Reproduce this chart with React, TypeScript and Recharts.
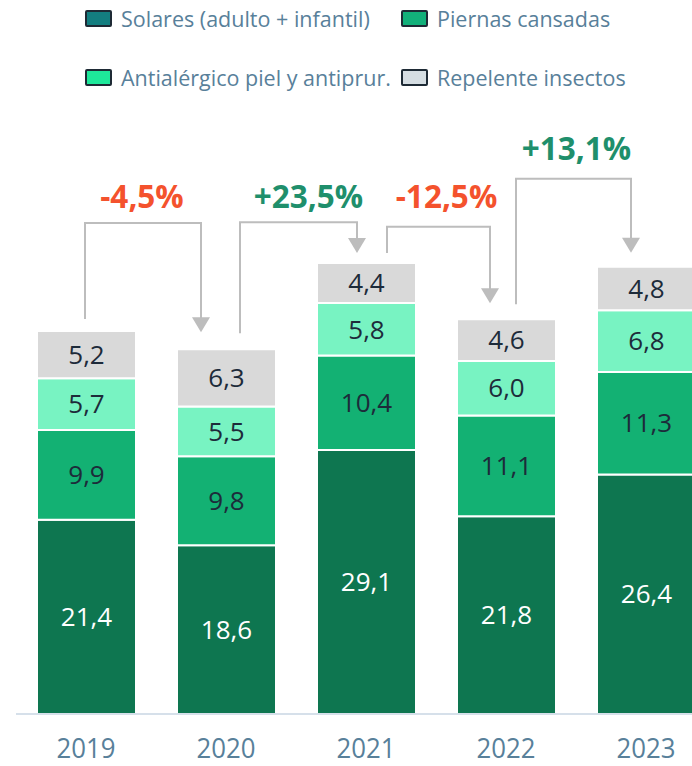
import { BarChart, Bar, XAxis, YAxis, LabelList, ReferenceLine } from 'recharts';

const years = ['2019', '2020', '2021', '2022', '2023'];
const solares = [21.4, 18.6, 29.1, 21.8, 26.4];
const piernas = [9.9, 9.8, 10.4, 11.1, 11.3];
const antialergico = [5.7, 5.5, 5.8, 6.0, 6.8];
const repelente = [5.2, 6.3, 4.4, 4.6, 4.8];
const changes = ['-4,5%', '+23,5%', '-12,5%', '+13,1%'];

const seriesNames = ['Solares (adulto + infantil)', 'Piernas cansadas', 'Antialérgico piel y antiprur.', 'Repelente insectos'];
const seriesKeys = ['solares', 'piernas', 'antialergico', 'repelente'];
const barColors = ['#0e7650', '#13b173', '#78f3c2', '#d9d9d9'];
const legendColors = ['#137e80', '#12b07a', '#1ee89a', '#d5dde2'];
const labelColors = ['#ffffff', '#1d2b3a', '#1d2b3a', '#1d2b3a'];

// connector geometry (pixels / data units), tuned to the picture
const connectorLayout = [
	{ level: 54.1, dxFrom: -1, dxTo: -25, startGap: 12, tipGap: 17, labelDx: -1, labelDy: -28 },
	{ level: 54.2, dxFrom: 14, dxTo: -9, startGap: 16, tipGap: 10, labelDx: 10, labelDy: -27 },
	{ level: 53.7, dxFrom: 21, dxTo: -16, startGap: 10, tipGap: 16, labelDx: 8, labelDy: -31 },
	{ level: 59.0, dxFrom: 10, dxTo: -15, startGap: 15, tipGap: 14, labelDx: 3, labelDy: -31 },
];

const data = years.map((year, i) => ({
	year,
	solares: solares[i],
	piernas: piernas[i],
	antialergico: antialergico[i],
	repelente: repelente[i],
}));

const totals = years.map((_, i) => solares[i] + piernas[i] + antialergico[i] + repelente[i]);

const LINE = '#bdbdbd';
const fmt = (v: any) => Number(v).toFixed(1).replace('.', ',');

function LeftLeg(dx: number, gap: number) {
	return (p: any) => (
		<line x1={p.x1 + dx} x2={p.x2 + dx} y1={Math.max(p.y1, p.y2) - gap} y2={Math.min(p.y1, p.y2)} stroke={LINE} strokeWidth={2} />
	);
}

function Across(dxFrom: number, dxTo: number, label: string, labelDx: number, labelDy: number) {
	return (p: any) => {
		const a = p.x1 + dxFrom;
		const b = p.x2 + dxTo;
		const color = label.startsWith('-') ? '#f4522d' : '#1f8f6c';
		return (
			<g>
				<line x1={a - 1} x2={b + 1} y1={p.y1} y2={p.y2} stroke={LINE} strokeWidth={2} />
				<text
					x={(a + b) / 2 + labelDx}
					y={p.y1 + labelDy}
					textAnchor="middle"
					dominantBaseline="central"
					fill={color}
					fontSize={31.5}
					fontWeight={700}
				>
					{label}
				</text>
			</g>
		);
	};
}

function RightLeg(dx: number, gap: number) {
	return (p: any) => {
		const x = p.x1 + dx;
		const top = Math.min(p.y1, p.y2);
		const tip = Math.max(p.y1, p.y2) - gap;
		return (
			<g>
				<line x1={x} x2={x} y1={top} y2={tip - 12} stroke={LINE} strokeWidth={2} />
				<path d={`M${x - 9},${tip - 15} L${x + 9},${tip - 15} L${x},${tip} Z`} fill={LINE} />
			</g>
		);
	};
}

function YearTick({ x, y, payload }: any) {
	return (
		<text x={x} y={y + 44} textAnchor="middle" fill="#58809a" fontSize={27} textLength={59} lengthAdjust="spacingAndGlyphs">
			{payload.value}
		</text>
	);
}

function LegendBlock() {
	const pos = [
		{ left: 85, top: 10 },
		{ left: 401, top: 10 },
		{ left: 85, top: 69 },
		{ left: 401, top: 69 },
	];
	return (
		<>
			{seriesNames.map((name, i) => (
				<div
					key={name}
					style={{ position: 'absolute', left: pos[i].left, top: pos[i].top, display: 'flex', alignItems: 'center', height: 17, whiteSpace: 'nowrap' }}
				>
					<div style={{ width: 23, height: 13, background: legendColors[i], border: '2px solid #1e2a35', borderRadius: 2, marginRight: 9 }} />
					<span style={{ fontSize: 21.5, color: '#58809a' }}>{name}</span>
				</div>
			))}
		</>
	);
}

export default function App() {
	return (
		<div style={{ position: 'absolute', left: 0, top: 0, width: 692, height: 766, overflow: 'hidden', background: '#fff', fontFamily: '"Open Sans", sans-serif' }}>
			<LegendBlock />
			<BarChart width={716} height={766} data={data} margin={{ top: 97, right: 0, bottom: 0, left: 16 }} barSize={99}>
				<XAxis
					dataKey="year"
					axisLine={{ stroke: '#d6e0ea', strokeWidth: 2 }}
					tickLine={false}
					tickSize={0}
					tickMargin={0}
					height={52}
					tick={<YearTick />}
					interval={0}
				/>
				<YAxis hide domain={[0, 68]} />
				{seriesKeys.map((key, i) => (
					<Bar key={key} dataKey={key} stackId="a" fill={barColors[i]} stroke="#ffffff" strokeWidth={2} isAnimationActive={false}>
						<LabelList dataKey={key} position="center" formatter={fmt} fill={labelColors[i]} fontSize={26} />
					</Bar>
				))}
				{changes.map((label, i) => {
					const c = connectorLayout[i];
					return [
						<ReferenceLine
							key={`l${i}`}
							ifOverflow="visible"
							segment={[{ x: years[i], y: totals[i] }, { x: years[i], y: c.level }]}
							shape={LeftLeg(c.dxFrom, c.startGap)}
						/>,
						<ReferenceLine
							key={`m${i}`}
							ifOverflow="visible"
							segment={[{ x: years[i], y: c.level }, { x: years[i + 1], y: c.level }]}
							shape={Across(c.dxFrom, c.dxTo, label, c.labelDx, c.labelDy)}
						/>,
						<ReferenceLine
							key={`r${i}`}
							ifOverflow="visible"
							segment={[{ x: years[i + 1], y: c.level }, { x: years[i + 1], y: totals[i + 1] }]}
							shape={RightLeg(c.dxTo, c.tipGap)}
						/>,
					];
				})}
			</BarChart>
		</div>
	);
}
